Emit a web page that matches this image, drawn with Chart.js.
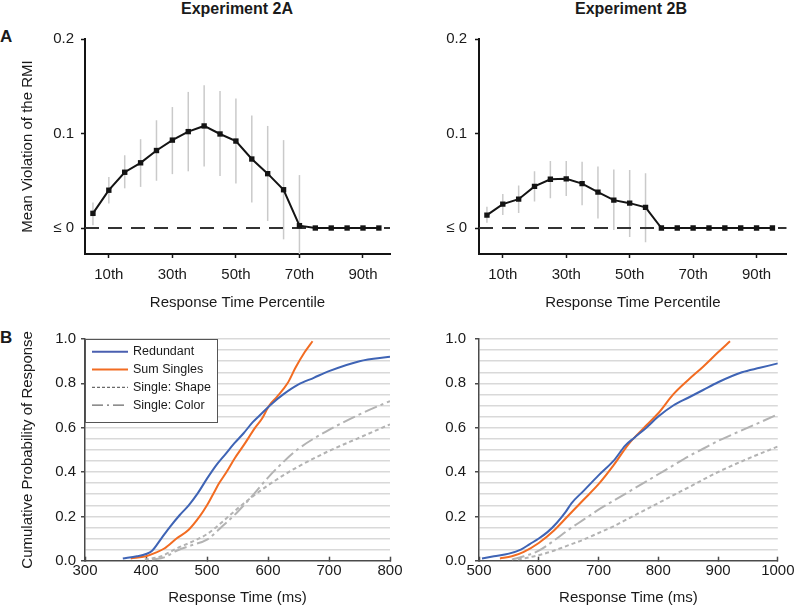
<!DOCTYPE html>
<html>
<head>
<meta charset="utf-8">
<script src="https://cdn.jsdelivr.net/npm/chart.js@4.4.0/dist/chart.umd.min.js"></script>
<style>
  body { margin: 0; background: #fff; width: 800px; height: 615px; position: relative; overflow: hidden;
         font-family: "Liberation Sans", Arial, sans-serif; color: #1a1a1a; }
  canvas { position: absolute; }
  .head { position: absolute; width: 300px; text-align: center; font-weight: bold; font-size: 16px; line-height: 16px; }
  .panel { position: absolute; left: 0; font-weight: bold; font-size: 17px; line-height: 17px; }
</style>
</head>
<body>
<div class="head" style="left:87px;top:1px">Experiment 2A</div>
<div class="head" style="left:481px;top:1px">Experiment 2B</div>
<div class="panel" style="top:28px">A</div>
<div class="panel" style="top:329px">B</div>
<canvas id="violA" width="400" height="315" style="left:0;top:0"></canvas>
<canvas id="violB" width="400" height="315" style="left:400px;top:0"></canvas>
<canvas id="cdfA" width="410" height="300" style="left:0;top:315px"></canvas>
<canvas id="cdfB" width="400" height="300" style="left:400px;top:315px"></canvas>
<script>
// ---- panel A data: mean violation of the RMI per percentile ----
const percentiles = [5, 10, 15, 20, 25, 30, 35, 40, 45, 50, 55, 60, 65, 70, 75, 80, 85, 90, 95];
const pctTicks = [10, 30, 50, 70, 90];
const violTicks = [0, 0.1, 0.2];
const violTickLabels = ['≤ 0', '0.1', '0.2'];

const viol2A   = [0.0155, 0.040, 0.059, 0.069, 0.082, 0.093, 0.102, 0.108, 0.0995, 0.092, 0.073, 0.0575, 0.0405, 0.0025, 0, 0, 0, 0, 0];
const viol2AHi = [0.027, 0.054, 0.077, 0.094, 0.114, 0.128, 0.144, 0.151, 0.145, 0.137, 0.119, 0.108, 0.093, 0.056, null, null, null, null, null];
const viol2ALo = [0.003, 0.026, 0.042, 0.0435, 0.050, 0.057, 0.060, 0.065, 0.055, 0.047, 0.027, 0.0075, -0.012, -0.03, null, null, null, null, null];

const viol2B   = [0.0137, 0.0253, 0.0305, 0.044, 0.0516, 0.052, 0.047, 0.038, 0.0295, 0.0263, 0.0218, 0, 0, 0, 0, 0, 0, 0, 0];
const viol2BHi = [0.0225, 0.036, 0.045, 0.060, 0.071, 0.071, 0.070, 0.065, 0.062, 0.0614, 0.058, null, null, null, null, null, null, null, null];
const viol2BLo = [0.0056, 0.0137, 0.016, 0.028, 0.0316, 0.034, 0.024, 0.010, -0.002, -0.0095, -0.015, null, null, null, null, null, null, null, null];

// ---- panel B data: cumulative probability vs response time (ms) ----
const cdfLabels = ['Redundant', 'Sum Singles', 'Single: Shape', 'Single: Color'];
const probTicks = [0, 0.05, 0.1, 0.15, 0.2, 0.25, 0.3, 0.35, 0.4, 0.45, 0.5, 0.55, 0.6, 0.65, 0.7, 0.75, 0.8, 0.85, 0.9, 0.95, 1];
const rtTicks2A = [300, 400, 500, 600, 700, 800];
const rtTicks2B = [500, 600, 700, 800, 900, 1000];

const redundant2A = [[362,0.01],[385,0.02],[400,0.03],[410,0.045],[425,0.10],[440,0.155],[455,0.205],[470,0.25],[485,0.305],
  [500,0.37],[515,0.43],[530,0.48],[545,0.53],[560,0.575],[575,0.625],[590,0.665],[605,0.705],[625,0.75],[650,0.795],
  [675,0.825],[700,0.855],[750,0.90],[800,0.92]];
const sumSingles2A = [[375,0.01],[400,0.02],[415,0.035],[430,0.055],[450,0.10],[470,0.14],[488,0.20],[500,0.25],[510,0.30],
  [520,0.35],[532,0.40],[545,0.46],[560,0.52],[579,0.60],[590,0.64],[602,0.70],[615,0.74],[632,0.80],[645,0.87],[660,0.94],[673,0.99]];
const shape2A = [[398,0.005],[425,0.02],[450,0.055],[475,0.085],[500,0.12],[525,0.175],[550,0.235],[575,0.29],[600,0.34],
  [625,0.385],[650,0.425],[700,0.495],[750,0.555],[800,0.615]];
const color2A = [[410,0.005],[430,0.015],[450,0.045],[475,0.07],[500,0.095],[525,0.155],[550,0.22],[575,0.295],[600,0.375],
  [625,0.445],[650,0.505],[700,0.59],[750,0.66],[800,0.72]];

const redundant2B = [[505,0.01],[525,0.02],[550,0.032],[570,0.05],[585,0.075],[600,0.10],[615,0.13],[630,0.17],[645,0.22],
  [655,0.26],[675,0.315],[700,0.385],[725,0.45],[745,0.52],[760,0.555],[780,0.60],[800,0.65],[825,0.70],[850,0.735],
  [875,0.77],[900,0.805],[940,0.85],[970,0.87],[1000,0.89]];
const sumSingles2B = [[535,0.01],[555,0.02],[575,0.04],[600,0.08],[625,0.135],[650,0.205],[675,0.275],[700,0.345],[725,0.43],
  [750,0.525],[775,0.597],[800,0.665],[825,0.75],[850,0.815],[875,0.875],[900,0.94],[920,0.99]];
const shape2B = [[565,0.005],[600,0.025],[625,0.045],[650,0.07],[675,0.095],[700,0.125],[725,0.155],[750,0.19],[775,0.225],
  [800,0.26],[850,0.33],[900,0.40],[950,0.46],[1000,0.515]];
const color2B = [[555,0.005],[575,0.02],[600,0.045],[625,0.09],[650,0.14],[675,0.185],[700,0.23],[725,0.27],[750,0.31],
  [775,0.35],[800,0.39],[825,0.43],[850,0.47],[875,0.505],[900,0.54],[950,0.60],[1000,0.66]];

Chart.defaults.font.family = "'Liberation Sans', Arial, sans-serif";
Chart.defaults.color = '#1a1a1a';

const INK = '#141414';
const AXIS_B = '#4a4a4a';

// gray error bars drawn under the line
function errorBars(hi, lo) {
  return {
    id: 'errorBars',
    beforeDatasetsDraw(chart) {
      const { ctx, chartArea: a, scales: { x, y } } = chart;
      ctx.save();
      ctx.beginPath();
      ctx.rect(a.left, a.top, a.right - a.left, a.bottom - a.top);
      ctx.clip();
      ctx.strokeStyle = '#cacaca';
      ctx.lineWidth = 1.5;
      hi.forEach((h, i) => {
        if (h == null) return;
        const px = x.getPixelForValue(percentiles[i]);
        ctx.beginPath();
        ctx.moveTo(px, y.getPixelForValue(h));
        ctx.lineTo(px, y.getPixelForValue(lo[i]));
        ctx.stroke();
      });
      ctx.restore();
    }
  };
}

function violationChart(id, mean, hi, lo, cfg) {
  return new Chart(document.getElementById(id), {
    type: 'line',
    data: {
      datasets: [
        { data: percentiles.map((p, i) => ({ x: p, y: mean[i] })), borderColor: INK, borderWidth: 2,
          pointStyle: 'rect', pointRadius: 3.8, pointBackgroundColor: INK, pointBorderWidth: 0, tension: 0 },
        { data: [{ x: cfg.xMin, y: 0 }, { x: cfg.xMax, y: 0 }], borderColor: '#333', borderWidth: 1.8,
          borderDash: [14, 9], pointRadius: 0 }
      ]
    },
    options: {
      responsive: false, animation: false, devicePixelRatio: 1,
      layout: { padding: { top: 39, right: cfg.padRight, left: 0, bottom: 0 } },
      plugins: { legend: { display: false }, tooltip: { enabled: false } },
      scales: {
        x: {
          type: 'linear', min: cfg.xMin, max: cfg.xMax,
          afterBuildTicks: s => { s.ticks = pctTicks.map(v => ({ value: v })); },
          afterFit: s => { s.height = 61; },
          ticks: { callback: v => v + 'th', font: { size: 15 }, padding: 8, maxRotation: 0, autoSkip: false },
          grid: { drawOnChartArea: false, tickLength: 4, color: INK, tickWidth: 1.5 },
          border: { color: INK, width: 2 },
          title: { display: true, text: 'Response Time Percentile', font: { size: 15 }, padding: { top: 0, bottom: 3 } }
        },
        y: {
          min: -0.0275, max: 0.2,
          afterBuildTicks: s => { s.ticks = violTicks.map(v => ({ value: v })); },
          afterFit: s => { s.width = cfg.yWidth; },
          ticks: { callback: (v, i) => violTickLabels[i], font: { size: 15 }, padding: cfg.yPad, autoSkip: false },
          grid: { drawOnChartArea: false, tickLength: 4, color: INK, tickWidth: 1.5 },
          border: { color: INK, width: 2 },
          title: { display: !!cfg.yTitle, text: cfg.yTitle || '', font: { size: 15 }, padding: { top: 19, bottom: 0 } }
        }
      }
    },
    plugins: [errorBars(hi, lo)]
  });
}

violationChart('violA', viol2A, viol2AHi, viol2ALo,
  { xMin: 2.5, xMax: 98.5, padRight: 10, yWidth: 85, yPad: 7, yTitle: 'Mean Violation of the RMI' });
violationChart('violB', viol2B, viol2BHi, viol2BLo,
  { xMin: 2.5, xMax: 99.5, padRight: 13.3, yWidth: 79, yPad: 8 });

// series styles for the CDF panels
const cdfColors = ['#3f64b5', '#f26c22', '#b3b3b3', '#b3b3b3'];
const cdfDash = [[], [], [4, 3], [13, 4, 3, 4]];
const legendColors = ['#4a5fb0', '#f26c22', '#6a6a6a', '#6a6a6a'];
const legendDash = [[], [], [3, 2], [11, 4, 2, 4]];
const legendWidths = [2, 2, 1.2, 1.2];

const legendBox = {
  id: 'legendBox',
  afterDatasetsDraw(chart) {
    const { ctx, chartArea: a } = chart;
    const x0 = a.left, y0 = a.top, w = 132, h = 83;
    ctx.save();
    ctx.fillStyle = '#fff';
    ctx.fillRect(x0, y0, w, h);
    ctx.strokeStyle = '#555';
    ctx.lineWidth = 1;
    ctx.strokeRect(x0 + 0.5, y0 + 0.5, w, h);
    chart.data.datasets.forEach((ds, i) => {
      const yy = y0 + 12.7 + i * 17.8;
      ctx.beginPath();
      ctx.setLineDash(legendDash[i]);
      ctx.strokeStyle = legendColors[i];
      ctx.lineWidth = legendWidths[i];
      ctx.moveTo(x0 + 7, yy);
      ctx.lineTo(x0 + 43, yy);
      ctx.stroke();
      ctx.setLineDash([]);
      ctx.fillStyle = '#1a1a1a';
      ctx.font = "12.5px 'Liberation Sans', Arial, sans-serif";
      ctx.textBaseline = 'middle';
      ctx.fillText(ds.label, x0 + 48, yy);
    });
    ctx.restore();
  }
};

function cdfChart(id, series, cfg) {
  return new Chart(document.getElementById(id), {
    type: 'line',
    data: {
      datasets: series.map((pts, i) => ({
        label: cdfLabels[i],
        data: pts.map(([x, y]) => ({ x, y })),
        borderColor: cdfColors[i], borderDash: cdfDash[i], borderWidth: 2,
        pointRadius: 0, cubicInterpolationMode: 'monotone'
      }))
    },
    options: {
      responsive: false, animation: false, devicePixelRatio: 1,
      layout: { padding: { top: 24, right: cfg.padRight, left: 0, bottom: 0 } },
      plugins: { legend: { display: false }, tooltip: { enabled: false } },
      scales: {
        x: {
          type: 'linear', min: cfg.ticks[0], max: cfg.ticks[cfg.ticks.length - 1],
          afterBuildTicks: s => { s.ticks = cfg.ticks.map(v => ({ value: v })); },
          afterFit: s => { s.height = 54.3; },
          ticks: { callback: v => String(v), font: { size: 15 }, padding: 5.5, maxRotation: 0, autoSkip: false },
          grid: { drawOnChartArea: false, tickLength: -4, color: AXIS_B, tickWidth: 1.5 },
          border: { color: AXIS_B, width: 1.5 },
          title: { display: true, text: 'Response Time (ms)', font: { size: 15 }, padding: { top: 0, bottom: 8 } }
        },
        y: {
          min: 0, max: 1,
          afterBuildTicks: s => { s.ticks = probTicks.map(v => ({ value: v })); },
          afterFit: s => { s.width = cfg.yWidth; },
          ticks: {
            callback: v => Math.abs(v * 5 - Math.round(v * 5)) < 1e-6 ? (Math.round(v * 5) / 5).toFixed(1) : '',
            font: { size: 15 }, padding: cfg.yPad, autoSkip: false
          },
          grid: {
            color: c => (c.tick && c.tick.value > 0.001) ? '#d9d9d9' : 'rgba(0,0,0,0)',
            lineWidth: 1.5,
            tickColor: c => (c.tick && Math.abs(c.tick.value * 5 - Math.round(c.tick.value * 5)) < 1e-6) ? AXIS_B : 'rgba(0,0,0,0)',
            tickLength: 4, tickWidth: 1.5
          },
          border: { color: AXIS_B, width: 1.5 },
          title: { display: !!cfg.yTitle, text: cfg.yTitle || '', font: { size: 15 }, padding: { top: 19, bottom: 0 } }
        }
      }
    },
    plugins: cfg.legend ? [legendBox] : []
  });
}

cdfChart('cdfA', [redundant2A, sumSingles2A, shape2A, color2A],
  { ticks: rtTicks2A, padRight: 20, yWidth: 85, yPad: 5, yTitle: 'Cumulative Probability of Response', legend: true });
cdfChart('cdfB', [redundant2B, sumSingles2B, shape2B, color2B],
  { ticks: rtTicks2B, padRight: 16.7, yWidth: 79, yPad: 9 });
</script>
</body>
</html>
